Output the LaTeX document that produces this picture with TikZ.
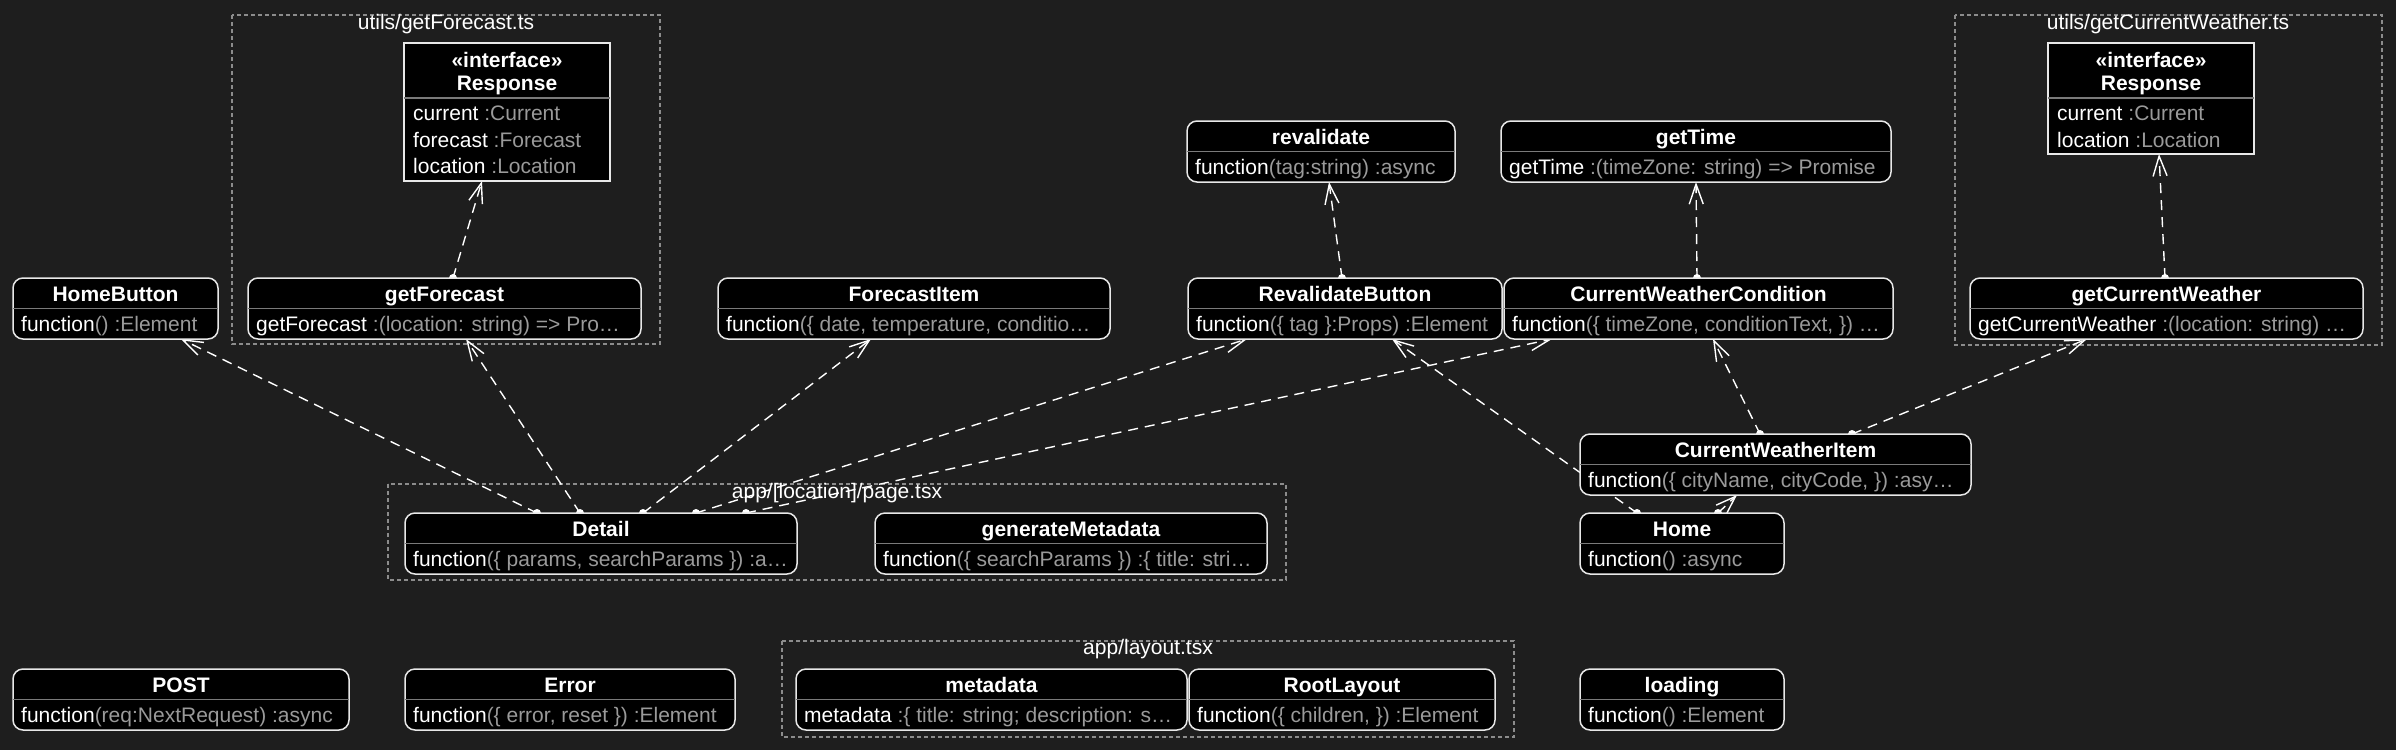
\documentclass[tikz,border=0pt]{standalone}
\usepackage{fontspec}
\setmainfont{Liberation Sans}
\usetikzlibrary{arrows.meta}
\definecolor{bgc}{HTML}{1E1E1E}
\definecolor{typegray}{HTML}{9A9A9A}
\definecolor{divgray}{HTML}{7A7A7A}
\definecolor{framegray}{HTML}{8C8C8C}
\definecolor{boxborder}{HTML}{E8E8E8}
\pgfdeclarelayer{bgl}
\pgfdeclarelayer{edges}
\pgfsetlayers{bgl,edges,main}
\tikzset{
  fnbox/.style={rectangle, draw=boxborder, fill=black, line width=1.5pt, rounded corners=10pt, inner sep=0pt, outer sep=0pt},
  ifbox/.style={rectangle, draw=boxborder, fill=black, line width=1.5pt, inner sep=0pt, outer sep=0pt},
  divider/.style={draw=divgray, line width=1.5pt},
  titletext/.style={font=\fontsize{21}{25}\selectfont\bfseries, text=white, inner sep=0pt},
  membertext/.style={font=\fontsize{21}{25}\selectfont, text=white, inner sep=0pt},
  frame/.style={draw=framegray, dash pattern=on 4pt off 3pt, line width=1.3pt},
  frametitle/.style={font=\fontsize{21}{25}\selectfont, text=white, inner sep=0pt, anchor=base},
  dep/.style={draw=white, line width=1.4pt, dash pattern=on 10pt off 7pt, -{Straight Barb[length=20pt,width=14pt]}},
}
\newcommand\fnbox[7]{%
  \node[fnbox, anchor=north west, minimum width={#4-#2}, minimum height=61] (#1) at (#2,#3) {};
  \draw[divider] ([yshift=-30.5pt]#1.north west) -- ([yshift=-30.5pt]#1.north east);
  \node[titletext, anchor=base] (#1-t) at ([yshift=-23pt]#1.north) {#5};
  \node[membertext, anchor=base west] (#1-m) at ([xshift=8pt,yshift=-53pt]#1.north west) {#6\textcolor{typegray}{#7}};
}
\newcommand\depedge[4]{%
  \draw[dep] ([xshift=#2pt]#1.north west) -- ([xshift=#4pt]#3.south west);
  \fill[white] ([xshift=#2pt]#1.north west) circle (4pt);
}
\begin{document}
\begin{tikzpicture}[x=1pt,y=-1pt]
\begin{pgfonlayer}{bgl}
\fill[bgc] (0,0) rectangle (2396,750);
\useasboundingbox (0,0) rectangle (2396,750);
% frames
\draw[frame] (232,15) rectangle (660,344);
\node[frametitle] (f1t) at (446,29) {utils/getForecast.ts};
\draw[frame] (1955,15) rectangle (2382,345);
\node[frametitle] (f2t) at (2168,29) {utils/getCurrentWeather.ts};
\draw[frame] (388,484) rectangle (1286,580);
\node[frametitle] (f3t) at (837,498) {app/[location]/page.tsx};
\draw[frame] (782,641) rectangle (1514,737);
\node[frametitle] (f4t) at (1148,654) {app/layout.tsx};
\end{pgfonlayer}

% interface boxes
\node[ifbox, anchor=north west, minimum width=206, minimum height=138] (resp1) at (404,43) {};
\draw[divider] (resp1.north west |- 0,98) -- (resp1.north east |- 0,98);
\node[titletext, anchor=base] (resp1-s) at (507,67) {«interface»};
\node[titletext, anchor=base] (resp1-t) at (507,90) {Response};
\node[membertext, anchor=base west] (resp1-a) at (413,120.5) {current\ \textcolor{typegray}{:Current}};
\node[membertext, anchor=base west] (resp1-b) at (413,147) {forecast\ \textcolor{typegray}{:Forecast}};
\node[membertext, anchor=base west] (resp1-c) at (413,173) {location\ \textcolor{typegray}{:Location}};

\node[ifbox, anchor=north west, minimum width=206, minimum height=111] (resp2) at (2048,43) {};
\draw[divider] (resp2.north west |- 0,98) -- (resp2.north east |- 0,98);
\node[titletext, anchor=base] (resp2-s) at (2151,67) {«interface»};
\node[titletext, anchor=base] (resp2-t) at (2151,90) {Response};
\node[membertext, anchor=base west] (resp2-a) at (2057,120.5) {current\ \textcolor{typegray}{:Current}};
\node[membertext, anchor=base west] (resp2-b) at (2057,147) {location\ \textcolor{typegray}{:Location}};

% function boxes
\fnbox{homebutton}{13}{278}{218}{HomeButton}{function}{() :Element}
\fnbox{getforecast}{248}{278}{641}{getForecast}{getForecast\ }{:(location: string) => Pro…}
\fnbox{forecastitem}{718}{278}{1110}{ForecastItem}{function}{(\{ date, temperature, conditio…}
\fnbox{revalidatebutton}{1188}{278}{1502}{RevalidateButton}{function}{(\{ tag \}:Props) :Element}
\fnbox{cwcondition}{1504}{278}{1893}{CurrentWeatherCondition}{function}{(\{ timeZone, conditionText, \}) …}
\fnbox{getcurrentweather}{1970}{278}{2363}{getCurrentWeather}{getCurrentWeather\ }{:(location: string) …}
\fnbox{revalidate}{1187}{121}{1455}{revalidate}{function}{(tag:string) :async}
\fnbox{gettime}{1501}{121}{1891}{getTime}{getTime\ }{:(timeZone: string) => Promise}
\fnbox{cwitem}{1580}{434}{1971}{CurrentWeatherItem}{function}{(\{ cityName, cityCode, \}) :asy…}
\fnbox{detail}{405}{513}{797}{Detail}{function}{(\{ params, searchParams \}) :a…}
\fnbox{genmeta}{875}{513}{1267}{generateMetadata}{function}{(\{ searchParams \}) :\{ title: stri…}
\fnbox{home}{1580}{513}{1784}{Home}{function}{() :async}
\fnbox{post}{13}{669}{349}{POST}{function}{(req:NextRequest) :async}
\fnbox{errorbox}{405}{669}{735}{Error}{function}{(\{ error, reset \}) :Element}
\fnbox{metadata}{796}{669}{1187}{metadata}{metadata\ }{:\{ title: string; description: s…}
\fnbox{rootlayout}{1189}{669}{1495}{RootLayout}{function}{(\{ children, \}) :Element}
\fnbox{loading}{1580}{669}{1784}{loading}{function}{() :Element}

\begin{pgfonlayer}{edges}
\depedge{getforecast}{205}{resp1}{78}
\depedge{detail}{132}{homebutton}{168}
\depedge{detail}{175}{getforecast}{218}
\depedge{detail}{238}{forecastitem}{153}
\depedge{detail}{291}{revalidatebutton}{59}
\depedge{detail}{341}{cwcondition}{48}
\depedge{revalidatebutton}{154}{revalidate}{142}
\depedge{cwcondition}{193}{gettime}{195}
\depedge{getcurrentweather}{195}{resp2}{111}
\depedge{cwitem}{180}{cwcondition}{209}
\depedge{cwitem}{272}{getcurrentweather}{117}
\depedge{home}{57}{revalidatebutton}{204}
\depedge{home}{138}{cwitem}{157}
\end{pgfonlayer}
\end{tikzpicture}
\end{document}
